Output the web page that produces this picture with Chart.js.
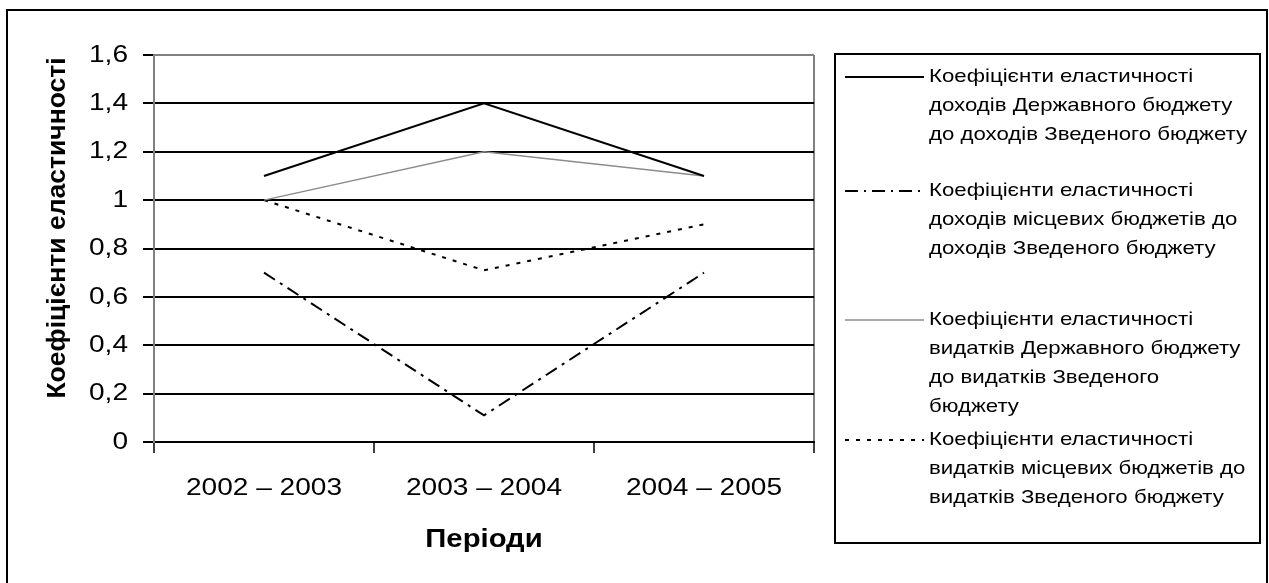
<!DOCTYPE html>
<html>
<head>
<meta charset="utf-8">
<script src="https://cdn.jsdelivr.net/npm/chart.js@4/dist/chart.umd.min.js"></script>
<style>
html, body { margin: 0; padding: 0; background: #fff; }
canvas { display: block; }
</style>
</head>
<body>
<canvas id="chart" width="1269" height="583"></canvas>
<script>
// Periods on the x axis
const periods = ['2002 – 2003', '2003 – 2004', '2004 – 2005'];

// Elasticity coefficients, one array per series
const revenueState = [1.1, 1.4, 1.1];
const revenueLocal = [0.7, 0.11, 0.7];
const spendingState = [1.0, 1.2, 1.1];
const spendingLocal = [1.0, 0.71, 0.9];

// Value axis range
const yMin = 0;
const yMax = 1.6;
const yStep = 0.2;

// Titles
const yTitle = 'Коефіцієнти еластичності';
const xTitle = 'Періоди';

// Legend text, line by line as in the picture
const legendLines = [
    ['Коефіцієнти еластичності', 'доходів Державного бюджету', 'до доходів Зведеного бюджету'],
    ['Коефіцієнти еластичності', 'доходів місцевих бюджетів до', 'доходів Зведеного бюджету'],
    ['Коефіцієнти еластичності', 'видатків Державного бюджету', 'до видатків Зведеного', 'бюджету'],
    ['Коефіцієнти еластичності', 'видатків місцевих бюджетів до', 'видатків Зведеного бюджету']
];

const FONT = '"Liberation Sans", Arial, sans-serif';
const GRAY = '#808080';
const STRETCH = 1.17;   // the original text is drawn horizontally widened

// Widen every text drawn on the chart canvas, like the source picture
const stretchPlugin = {
    id: 'stretch',
    afterInit(chart) {
        const ctx = chart.ctx;
        const orig = ctx.fillText;
        ctx.plainFillText = orig;
        ctx.fillText = function (text, x, y, maxWidth) {
            this.save();
            this.translate(x, y);
            this.scale(STRETCH, 1);
            if (maxWidth === undefined) orig.call(this, text, 0, 0);
            else orig.call(this, text, 0, 0, maxWidth / STRETCH);
            this.restore();
        };
    }
};

// Frame, y title and the boxed legend on the right
const decorPlugin = {
    id: 'decor',
    afterDraw(chart) {
        const ctx = chart.ctx;
        ctx.save();

        // outer frame
        ctx.strokeStyle = '#000';
        ctx.lineWidth = 2;
        ctx.strokeRect(7, 10, 1260, 600);

        // y axis title
        ctx.fillStyle = '#000';
        ctx.font = 'bold 26.5px ' + FONT;
        ctx.textAlign = 'center';
        ctx.textBaseline = 'middle';
        ctx.translate(58, 228);
        ctx.rotate(-Math.PI / 2);
        ctx.plainFillText(yTitle, 0, 0);
        ctx.setTransform(1, 0, 0, 1, 0, 0);

        // legend box
        ctx.lineWidth = 2;
        ctx.strokeRect(835, 54, 425, 489);

        const firstLineY = [77, 191, 320, 440];
        const lineH = 29;
        ctx.font = '19px ' + FONT;
        ctx.textAlign = 'left';
        chart.data.datasets.forEach((ds, i) => {
            const y = firstLineY[i];
            ctx.save();
            ctx.strokeStyle = ds.borderColor;
            ctx.lineWidth = ds.borderWidth;
            ctx.setLineDash(ds.legendDash || ds.borderDash || []);
            ctx.beginPath();
            ctx.moveTo(845, y);
            ctx.lineTo(924, y);
            ctx.stroke();
            ctx.restore();
            legendLines[i].forEach((line, j) => {
                ctx.fillText(line, 929, y + j * lineH);
            });
        });
        ctx.restore();
    }
};

const chart = new Chart(document.getElementById('chart'), {
    type: 'line',
    data: {
        labels: periods,
        datasets: [
            {
                label: legendLines[0].join(' '),
                data: revenueState,
                borderColor: '#000',
                borderWidth: 2
            },
            {
                label: legendLines[1].join(' '),
                data: revenueLocal,
                borderColor: '#000',
                borderWidth: 2,
                borderDash: [13, 6, 3, 6],
                legendDash: [13, 6, 2, 6]
            },
            {
                label: legendLines[2].join(' '),
                data: spendingState,
                borderColor: '#8c8c8c',
                borderWidth: 1.5
            },
            {
                label: legendLines[3].join(' '),
                data: spendingLocal,
                borderColor: '#000',
                borderWidth: 2,
                borderDash: [4, 7]
            }
        ]
    },
    options: {
        responsive: false,
        animation: false,
        devicePixelRatio: 1,
        layout: { padding: { left: 0, right: 455, top: 55, bottom: 0 } },
        elements: {
            point: { radius: 0, hoverRadius: 0 },
            line: { tension: 0, fill: false }
        },
        plugins: {
            legend: { display: false },
            tooltip: { enabled: false }
        },
        scales: {
            x: {
                offset: true,
                grid: {
                    offset: true,
                    color: c => c.type === 'scale' ? GRAY : 'rgba(0,0,0,0)',
                    lineWidth: 2,
                    tickLength: 11,
                    tickColor: '#000',
                    tickWidth: 1.5
                },
                border: { color: '#000', width: 2 },
                ticks: {
                    color: '#000',
                    padding: 21,
                    maxRotation: 0,
                    autoSkip: false,
                    font: { family: FONT, size: 24 }
                },
                title: {
                    display: true,
                    text: xTitle,
                    color: '#000',
                    font: { family: FONT, size: 25, weight: 'bold' },
                    padding: { top: 0, bottom: 28 }
                },
                afterFit: s => { s.height = 141; }
            },
            y: {
                min: yMin,
                max: yMax,
                grid: {
                    color: c => (c.tick && c.tick.value > yMax - 0.01) ? GRAY : '#000',
                    lineWidth: 2,
                    tickLength: 11,
                    tickColor: '#000'
                },
                border: { color: GRAY, width: 2 },
                ticks: {
                    stepSize: yStep,
                    color: '#000',
                    padding: 15,
                    font: { family: FONT, size: 24 },
                    callback: v => String(Number(v.toFixed(1))).replace('.', ',')
                },
                afterFit: s => { s.width = 154; }
            }
        }
    },
    plugins: [stretchPlugin, decorPlugin]
});
</script>
</body>
</html>
